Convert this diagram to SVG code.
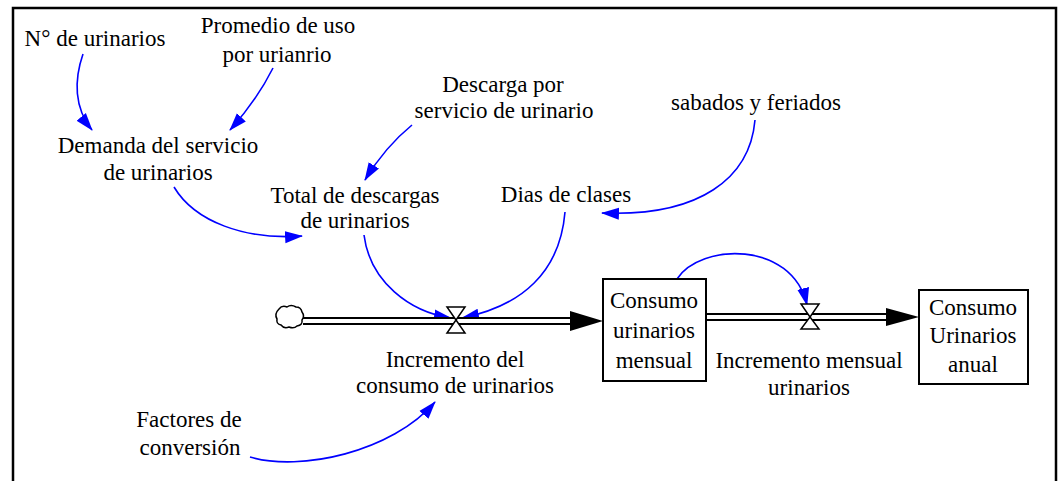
<svg xmlns="http://www.w3.org/2000/svg" width="1062" height="481" viewBox="0 0 1062 481">
<defs>
<marker id="ah" markerUnits="userSpaceOnUse" markerWidth="18" markerHeight="14" viewBox="0 0 18 14" refX="17" refY="7" orient="auto">
<path d="M0,1 L18,7 L0,13 Z" fill="#0000ff"/>
</marker>
</defs>
<rect x="0" y="0" width="1062" height="481" fill="#fff"/>
<g id="frame">
<path d="M13,481 V8 H1056 V481" fill="none" stroke="#000" stroke-width="2.5"/>
</g>
<g id="connectors" fill="none" stroke="#0000ff" stroke-width="1.6">
<path marker-end="url(#ah)" d="M83,54 C74,80 74,108 92,130"/>
<path marker-end="url(#ah)" d="M273,68 Q257,100 230,130"/>
<path marker-end="url(#ah)" d="M174,187 C195,222 245,240 302,236"/>
<path marker-end="url(#ah)" d="M412,125 Q385,147 365,180"/>
<path marker-end="url(#ah)" d="M755,120 C750,178 700,217 602,213"/>
<path marker-end="url(#ah)" d="M364,235 C370,282 410,312 451,318"/>
<path marker-end="url(#ah)" d="M565,212 C560,272 522,306 462,318"/>
<path marker-end="url(#ah)" d="M250,457 C300,472 392,452 435,402"/>
<path marker-end="url(#ah)" d="M677,279 C700,243 792,240 807,305"/>
</g>
<g font-family="Liberation Serif" font-size="23" text-anchor="middle" fill="#000">
<g id="flow-incremento-consumo">
<path d="M303,321 H572" fill="none" stroke="#000" stroke-width="8"/>
<path d="M300,321 H574" fill="none" stroke="#fff" stroke-width="4"/>
<path d="M570,311 L603,321 L570,331 Z" fill="#000"/>
<path id="cloud" d="M279,309 q3,-4 8,-2 q4,-3 9,0 q5,0 6,5 q3,4 0,8 q1,5 -5,6 q-3,3 -8,1 q-5,2 -8,-2 q-5,-1 -4,-6 q-3,-5 2,-10 Z" fill="#fff" stroke="#000" stroke-width="1.5"/>
<polygon points="447,307 465,307 456,320 465,333 447,333 456,320" fill="#fff" stroke="#000" stroke-width="1.5"/>
<text x="455" y="367">Incremento del</text>
<text x="455" y="393">consumo de urinarios</text>
</g>
<g id="flow-incremento-mensual">
<path d="M706,317 H889" fill="none" stroke="#000" stroke-width="8"/>
<path d="M707,317 H890" fill="none" stroke="#fff" stroke-width="4"/>
<path d="M886,308 L919,317 L886,326 Z" fill="#000"/>
<polygon points="801,304 819,304 810,317 819,329 801,329 810,317" fill="#fff" stroke="#000" stroke-width="1.5"/>
<text x="809" y="368">Incremento mensual</text>
<text x="809" y="395">urinarios</text>
</g>
<g id="stock-mensual">
<rect x="603" y="279" width="103" height="102" fill="#fff" stroke="#000" stroke-width="2"/>
<text x="654" y="308">Consumo</text>
<text x="654" y="338">urinarios</text>
<text x="654" y="368">mensual</text>
</g>
<g id="stock-anual">
<rect x="919" y="290" width="109" height="94" fill="#fff" stroke="#000" stroke-width="2"/>
<text x="973" y="315">Consumo</text>
<text x="973" y="343">Urinarios</text>
<text x="973" y="372">anual</text>
</g>
<g id="n-urinarios"><text x="95" y="46">N° de urinarios</text></g>
<g id="promedio-uso"><text x="278" y="33">Promedio de uso</text><text x="277" y="62">por urianrio</text></g>
<g id="demanda"><text x="158" y="153">Demanda del servicio</text><text x="158" y="180">de urinarios</text></g>
<g id="total-descargas"><text x="355" y="203">Total de descargas</text><text x="355" y="228">de urinarios</text></g>
<g id="descarga-servicio"><text x="503" y="92">Descarga por</text><text x="504" y="118">servicio de urinario</text></g>
<g id="sabados"><text x="756" y="110">sabados y feriados</text></g>
<g id="dias-clases"><text x="566" y="202">Dias de clases</text></g>
<g id="factores"><text x="189" y="427">Factores de</text><text x="190" y="455">conversión</text></g>
</g>
</svg>
